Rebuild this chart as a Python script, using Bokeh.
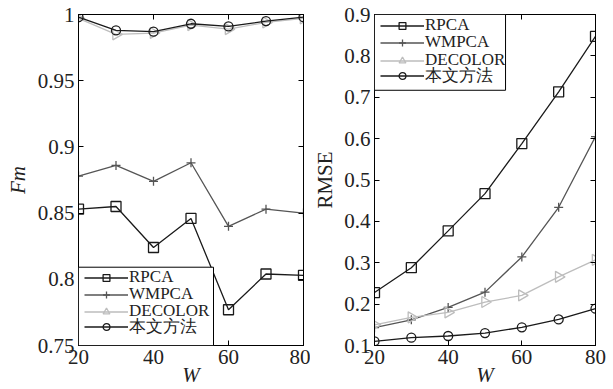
import math
from bokeh.plotting import figure
from bokeh.layouts import row
from bokeh.models import (Range1d, FixedTicker, LinearAxis, Legend, LegendItem,
                          CustomJSTickFormatter, BoxAnnotation)
from bokeh.embed import file_html
from bokeh.resources import INLINE

# ---------------- data ----------------
W = [20, 30, 40, 50, 60, 70, 80]
methods = ["RPCA", "WMPCA", "DECOLOR", "本文方法"]

fm_rpca = [0.853, 0.855, 0.824, 0.846, 0.777, 0.804, 0.803]
fm_wmpca = [0.878, 0.886, 0.874, 0.888, 0.840, 0.853, 0.850]
fm_decolor = [0.997, 0.985, 0.986, 0.992, 0.989, 0.994, 0.997]
fm_ours = [0.998, 0.988, 0.987, 0.993, 0.991, 0.995, 0.998]

rmse_rpca = [0.228, 0.288, 0.377, 0.467, 0.588, 0.713, 0.847]
rmse_wmpca = [0.143, 0.162, 0.192, 0.229, 0.314, 0.434, 0.605]
rmse_decolor = [0.150, 0.168, 0.180, 0.205, 0.221, 0.266, 0.307]
rmse_ours = [0.110, 0.119, 0.123, 0.130, 0.144, 0.163, 0.189]

x_ticks = [20, 40, 60, 80]
fm_ticks = [0.75, 0.8, 0.85, 0.9, 0.95, 1]
rmse_ticks = [0.1, 0.2, 0.3, 0.4, 0.5, 0.6, 0.7, 0.8, 0.9]

SERIF = "Liberation Serif"
NAN = float("nan")

styles = {
    "RPCA": dict(color="#1a1a1a", marker="square", size=10, angle=0.0),
    "WMPCA": dict(color="#555555", marker="cross", size=9, angle=0.0),
    "DECOLOR": dict(color="#bdbdbd", marker="triangle", size=11, angle=-math.pi / 2),
    "本文方法": dict(color="#1a1a1a", marker="circle", size=9, angle=0.0),
}

ITEM_H = 17  # legend row height (px)


def style_axis(ax, ticks, show_labels, label_standoff=0):
    ax.ticker = FixedTicker(ticks=ticks)
    ax.major_tick_in = 5
    ax.major_tick_out = 0
    ax.minor_tick_in = 0
    ax.minor_tick_out = 0
    ax.axis_line_color = "black"
    ax.major_tick_line_color = "black"
    if show_labels:
        ax.formatter = CustomJSTickFormatter(code="return String(tick);")
        ax.major_label_text_font = SERIF
        ax.major_label_text_font_size = "21px"
        ax.major_label_text_color = "#222222"
        ax.major_label_standoff = 4
        ax.axis_label_text_font = SERIF
        ax.axis_label_text_font_size = "21px"
        ax.axis_label_text_color = "#222222"
        ax.axis_label_standoff = label_standoff
    else:
        ax.formatter = CustomJSTickFormatter(code="return '';")
        ax.major_label_text_font_size = "0px"


def make_fig(width, xr, yr, yticks, ylabel, yitalic, series,
             mb_left, mb_right, mb_top, mb_bottom, ylab_standoff,
             box_px, item_centers):
    """box_px = (left, bottom, width, height) of legend box in px relative to the
    frame's bottom-left; item_centers = px above frame bottom of each legend row."""
    p = figure(width=width, height=389, x_range=Range1d(*xr), y_range=Range1d(*yr),
               output_backend="svg", toolbar_location=None,
               min_border_left=mb_left, min_border_right=mb_right,
               min_border_top=mb_top, min_border_bottom=mb_bottom)
    p.xgrid.visible = False
    p.ygrid.visible = False
    p.outline_line_color = "black"
    p.background_fill_color = "white"
    p.border_fill_color = "white"

    style_axis(p.xaxis[0], x_ticks, True, -4)
    style_axis(p.yaxis[0], yticks, True, ylab_standoff)
    p.xaxis.axis_label = "W"
    p.xaxis.axis_label_text_font_style = "italic"
    p.yaxis.axis_label = ylabel
    p.yaxis.axis_label_text_font_style = "italic" if yitalic else "normal"

    top = LinearAxis()
    style_axis(top, x_ticks, False)
    p.add_layout(top, "above")
    right = LinearAxis()
    style_axis(right, yticks, False)
    p.add_layout(right, "right")

    legend_items = []
    for name, vals in zip(methods, series):
        st = styles[name]
        p.line(W, vals, line_color=st["color"], line_width=1.3)
        p.scatter(W, vals, marker=st["marker"], size=st["size"], angle=st["angle"],
                  line_color=st["color"], fill_color=None, line_width=1.3)
        lln = p.line([NAN], [NAN], line_color=st["color"], line_width=1.3)
        lsc = p.scatter([NAN], [NAN], marker=st["marker"], size=7,
                        line_color=st["color"], fill_color=None, line_width=1.3)
        legend_items.append(LegendItem(label=name, renderers=[lln, lsc]))

    # legend frame box (converted from px fractions of the frame)
    frame_w = width - mb_left - mb_right
    frame_h = 389 - mb_top - mb_bottom
    sx = (xr[1] - xr[0]) / frame_w
    sy = (yr[1] - yr[0]) / frame_h
    bl, bb, bw, bh = box_px
    box = BoxAnnotation(left=xr[0] + bl * sx, right=xr[0] + (bl + bw) * sx,
                        bottom=yr[0] + bb * sy, top=yr[0] + (bb + bh) * sy,
                        fill_color="white", fill_alpha=1.0,
                        line_color="black", line_width=1, line_alpha=1.0)
    p.add_layout(box)

    for it, cy in zip(legend_items, item_centers):
        leg = Legend(items=[it], location=(bl + 6, cy - 9))
        leg.margin = 0
        leg.padding = 0
        leg.spacing = 0
        leg.glyph_width = 44
        leg.glyph_height = ITEM_H
        leg.label_height = ITEM_H
        leg.label_standoff = 1
        leg.label_text_font = SERIF
        leg.label_text_font_size = "17px"
        leg.label_text_color = "#222222"
        leg.border_line_color = None
        leg.background_fill_alpha = 0.0
        p.add_layout(leg)
    return p


p1 = make_fig(310, (20, 80), (0.75, 1.0), fm_ticks, "Fm", True,
              [fm_rpca, fm_wmpca, fm_decolor, fm_ours],
              78, 7, 13, 42, 5,
              (0, 0, 135, 79), [67, 50, 33, 16])
p2 = make_fig(303, (20, 80), (0.1, 0.9), rmse_ticks, "RMSE", False,
              [rmse_rpca, rmse_wmpca, rmse_decolor, rmse_ours],
              59, 18, 14, 43, 4,
              (0, 256, 134, 76), [319, 302, 284, 267])

layout = row(p1, p2)
open("out.html", "w").write(file_html(layout, INLINE))
